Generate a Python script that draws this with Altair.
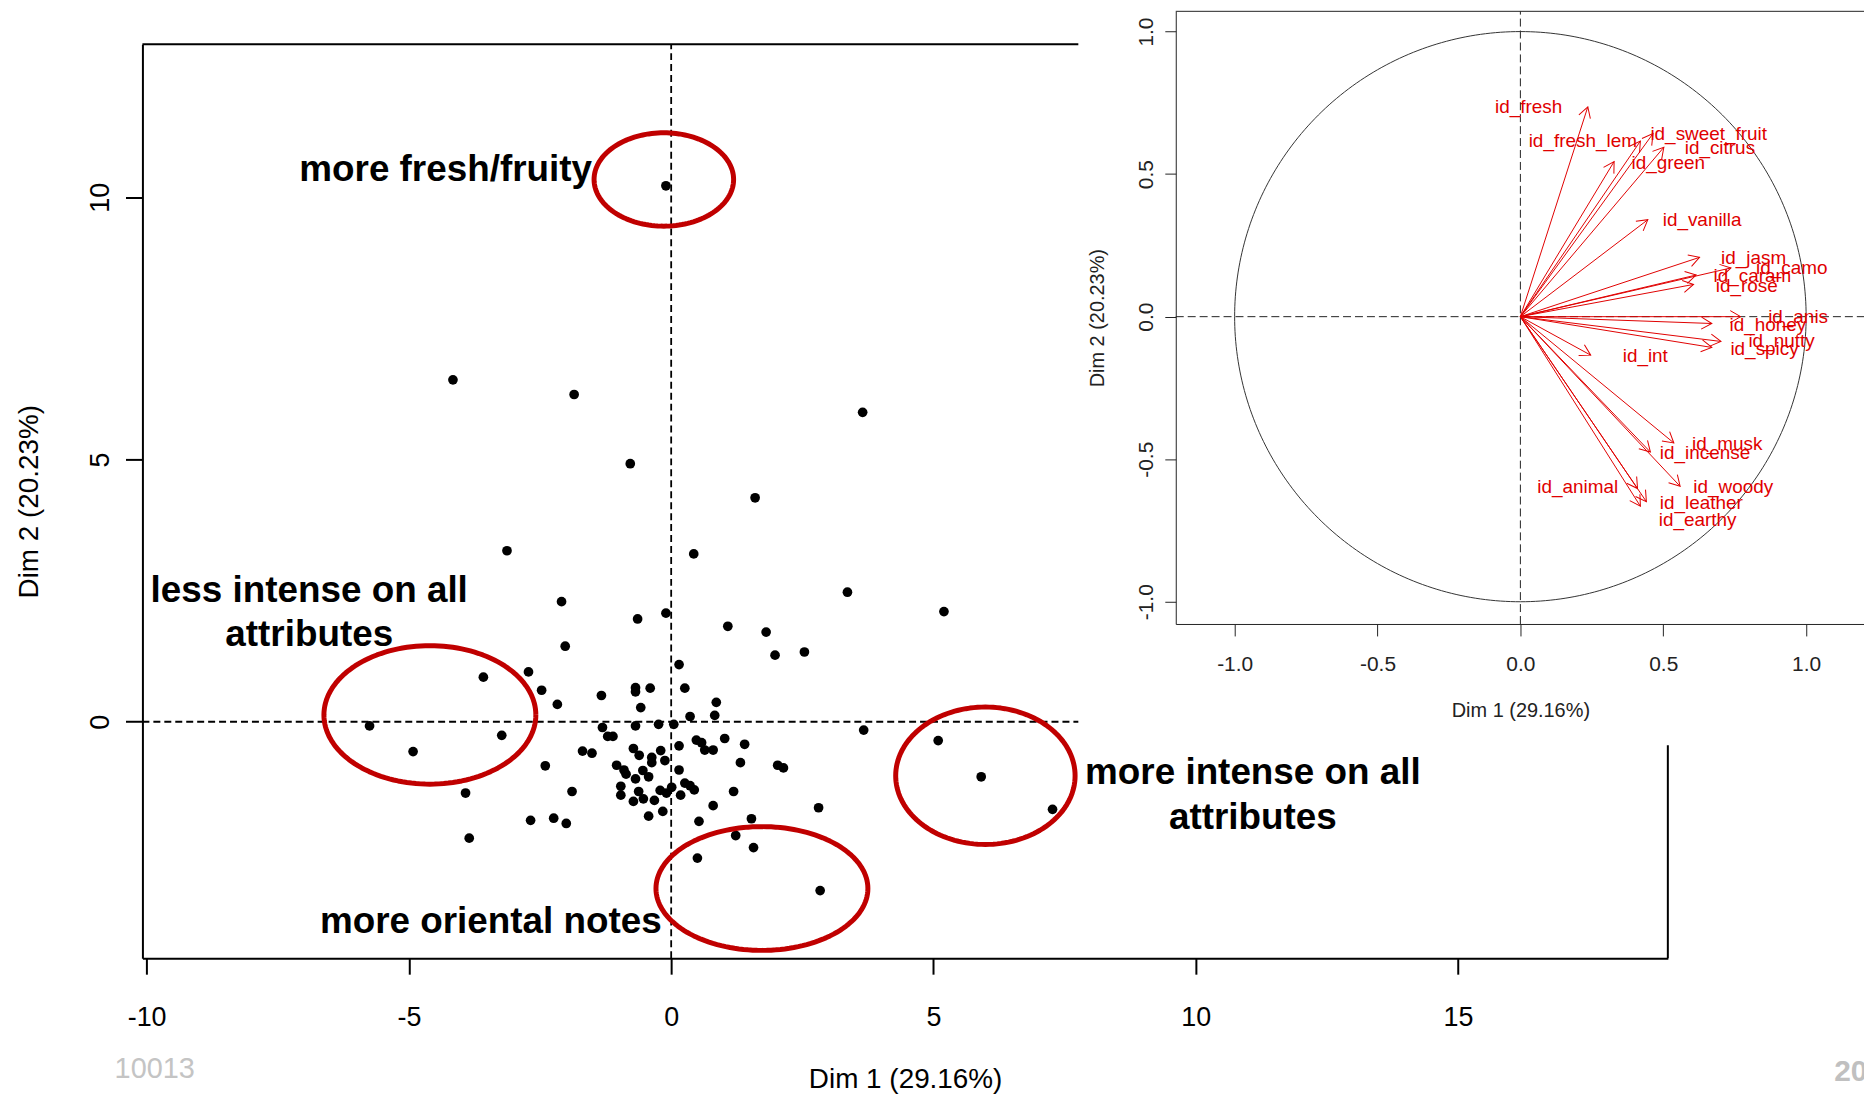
import altair as alt
import numpy as np
import pandas as pd

FONT = "Liberation Sans"
RED = "#e00000"
ELL_RED = "#c00000"

# ---------------- individuals (main factor map) ----------------
ind_x = [-0.10, -4.16, -1.85, 3.65, -0.78, 1.60, -3.13, 0.43, 3.36, 5.20,
         -2.09, -0.64, -0.10, 1.08, 1.81, -2.02, 1.98, 2.54, 0.15, -2.72,
         -3.58, -0.40, -0.68, -0.68, 0.26, -2.47, -1.33, 0.86, -2.17, -0.58,
         0.83, 0.36, -5.75, -0.68, -0.24, 0.05, -1.31, -3.23, -1.21, -1.11,
         0.15, 0.48, 0.58, 0.64, 0.80, -4.92, -1.69, -1.51, -0.72, -0.61,
         -0.37, -0.37, -0.20, -0.12, -2.40, -1.04, -0.90, -0.86, -0.54, -0.43,
         -0.68, 0.15, 0.26, 0.36, 0.44, -1.89, -0.96, -0.96, -0.62, -0.53,
         -0.72, -0.32, -0.21, -0.09, 0.01, 0.18, 0.80, -3.92, -0.43, -0.16,
         0.53, -2.68, -2.24, -2.00, -3.85, 0.50, 3.67, 1.02, 1.40, 1.32,
         2.03, 2.14, 1.19, 2.81, 1.53, 1.23, 1.57, 2.84, 5.09, 5.91, 7.27]
ind_y = [10.22, 6.52, 6.24, 5.90, 4.92, 4.27, 3.26, 3.20, 2.47, 2.10,
         2.29, 1.96, 2.07, 1.82, 1.71, 1.44, 1.27, 1.33, 1.09, 0.95,
         0.85, 0.64, 0.65, 0.57, 0.64, 0.60, 0.50, 0.37, 0.33, 0.27,
         0.12, 0.10, -0.08, -0.08, -0.05, -0.05, -0.11, -0.26, -0.28, -0.28,
         -0.46, -0.35, -0.40, -0.54, -0.54, -0.57, -0.56, -0.60, -0.51, -0.64,
         -0.68, -0.78, -0.55, -0.74, -0.84, -0.83, -0.92, -1.00, -0.93, -1.05,
         -1.09, -0.92, -1.17, -1.22, -1.30, -1.33, -1.23, -1.40, -1.33, -1.47,
         -1.52, -1.50, -1.31, -1.36, -1.25, -1.40, -1.60, -1.36, -1.80, -1.71,
         -1.90, -1.88, -1.84, -1.94, -2.22, -2.60, -0.16, -0.32, -0.43, -0.78,
         -0.83, -0.88, -1.33, -1.64, -1.85, -2.17, -2.40, -3.22, -0.36, -1.05, -1.67]

# ---------------- highlight ellipses ----------------
ell_cx = [-0.14, -4.60, 1.73, 5.99]
ell_cy = [10.34, 0.13, -3.18, -1.03]
ell_rx = [1.33, 2.02, 2.02, 1.71]
ell_ry = [0.89, 1.32, 1.18, 1.31]

# ---------------- annotations ----------------
ann_text = ["more fresh/fruity", "less intense on all", "attributes",
            "more oriental notes", "more intense on all", "attributes"]
ann_x = [-1.51, -6.90, -6.90, -0.18, 11.09, 11.09]
ann_y = [10.32, 2.28, 1.44, -4.03, -1.19, -2.04]
ann_align = ["right", "center", "center", "right", "center", "center"]

foot_text = ["10013", "20"]
foot_x = [-10.61, 22.17]
foot_y = [-6.79, -6.86]

# ---------------- variables (correlation circle inset) ----------------
var_names = ["id_fresh", "id_fresh_lem", "id_sweet_fruit", "id_citrus", "id_green",
             "id_vanilla", "id_jasm", "id_camo", "id_caram", "id_rose", "id_anis",
             "id_honey", "id_nutty", "id_spicy", "id_int", "id_musk", "id_incense",
             "id_woody", "id_animal", "id_leather", "id_earthy"]
var_x = [0.236, 0.420, 0.464, 0.502, 0.328, 0.446, 0.627, 0.737, 0.615, 0.606, 0.771,
         0.670, 0.702, 0.670, 0.246, 0.537, 0.455, 0.559, 0.410, 0.441, 0.420]
var_y = [0.736, 0.616, 0.642, 0.594, 0.544, 0.340, 0.208, 0.171, 0.146, 0.113, 0.000,
         -0.024, -0.087, -0.108, -0.135, -0.443, -0.475, -0.595, -0.603, -0.649, -0.665]
lab_x = [-0.089, 0.029, 0.455, 0.575, 0.389, 0.498, 0.702, 0.825, 0.676, 0.684, 0.867,
         0.732, 0.798, 0.735, 0.358, 0.601, 0.488, 0.605, 0.059, 0.488, 0.484]
lab_y = [0.736, 0.616, 0.642, 0.590, 0.540, 0.338, 0.206, 0.171, 0.142, 0.107, -0.003,
         -0.029, -0.085, -0.114, -0.137, -0.446, -0.478, -0.599, -0.599, -0.653, -0.713]

# ---------------- layout ----------------
W, H = 1532, 918
XMIN, XMAX = -10.08, 19.0
YMIN, YMAX = -4.51, 12.92
IXMIN, IXMAX = -1.206, 1.206
IYMIN, IYMAX = -1.078, 1.071

minus_fix = "replace(datum.label, '\u2212', '-')"

SX = alt.Scale(domain=[XMIN, XMAX], nice=False, zero=False)
SY = alt.Scale(domain=[YMIN, YMAX], nice=False, zero=False)
AX = alt.Axis(orient="bottom", values=[-10, -5, 0, 5, 10, 15], labelExpr=minus_fix,
              grid=False, tickSize=16, tickWidth=2, tickColor="black",
              domainColor="black", domainWidth=2, labelFont=FONT, labelFontSize=27,
              labelColor="black", labelPadding=44, labelBaseline="middle",
              labelFlush=False, labelOverlap=False,
              title="Dim 1 (29.16%)", titleFont=FONT, titleFontSize=28,
              titleFontWeight="normal", titleColor="black", titleY=122,
              titleBaseline="middle")
AY = alt.Axis(orient="left", values=[0, 5, 10], grid=False, tickSize=17, tickWidth=2,
              tickColor="black", domainColor="black", domainWidth=2, labelFont=FONT,
              labelFontSize=27, labelColor="black", labelAngle=270, labelAlign="center",
              labelBaseline="alphabetic", labelPadding=17, labelFlush=False,
              labelOverlap=False,
              title="Dim 2 (20.23%)", titleFont=FONT, titleFontSize=28,
              titleFontWeight="normal", titleColor="black", titleAngle=270,
              titleX=-113, titleBaseline="middle")

SIX = alt.Scale(domain=[IXMIN, IXMAX], range=[1037.8, 1730.0], nice=False, zero=False)
SIY = alt.Scale(domain=[IYMIN, IYMAX], range=[582.3, -33.0], nice=False, zero=False)
AIX = alt.Axis(orient="bottom", offset=-335.7, values=[-1, -0.5, 0, 0.5, 1], format=".1f",
               labelExpr=minus_fix, grid=False, tickSize=12, tickWidth=1,
               tickColor="#222222", domainColor="#222222", domainWidth=1,
               labelFont=FONT, labelFontSize=21, labelColor="#222222", labelPadding=29,
               labelBaseline="middle", labelFlush=False, labelOverlap=False, zindex=1,
               title="Dim 1 (29.16%)", titleFont=FONT, titleFontSize=20,
               titleFontWeight="normal", titleColor="#222222", titleY=87,
               titleBaseline="middle")
AIY = alt.Axis(orient="left", offset=-1037.8, values=[-1, -0.5, 0, 0.5, 1], format=".1f",
               labelExpr=minus_fix, grid=False, tickSize=11, tickWidth=1,
               tickColor="#222222", domainColor="#222222", domainWidth=1,
               labelFont=FONT, labelFontSize=21, labelColor="#222222", labelAngle=270,
               labelAlign="center", labelBaseline="alphabetic", labelPadding=12.5,
               labelFlush=False, labelOverlap=False, zindex=1,
               title="Dim 2 (20.23%)", titleFont=FONT, titleFontSize=20,
               titleFontWeight="normal", titleColor="#222222", titleAngle=270,
               titleX=-79, titleBaseline="middle")


def mx(f):
    return alt.X(f, type="quantitative", scale=SX, axis=AX)


def my(f):
    return alt.Y(f, type="quantitative", scale=SY, axis=AY)


def ix(f):
    return alt.X(f, type="quantitative", scale=SIX, axis=AIX)


def iy(f):
    return alt.Y(f, type="quantitative", scale=SIY, axis=AIY)


# ---------------- main layers ----------------
pts = pd.DataFrame({"x": ind_x, "y": ind_y})

frame = pd.DataFrame({"x1": [XMIN, XMAX], "x2": [XMAX, XMAX],
                      "y1": [YMAX, YMIN], "y2": [YMAX, YMAX]})
axes0 = pd.DataFrame({"x1": [0, XMIN], "x2": [0, XMAX],
                      "y1": [YMIN, 0], "y2": [YMAX, 0]})

t = np.linspace(0, 2 * np.pi, 145)
ell_rows = []
for k in range(len(ell_cx)):
    for i, tt in enumerate(t):
        ell_rows.append({"e": k, "i": i,
                         "x": ell_cx[k] + ell_rx[k] * np.cos(tt),
                         "y": ell_cy[k] + ell_ry[k] * np.sin(tt)})
ell = pd.DataFrame(ell_rows)

ann = pd.DataFrame({"t": ann_text, "x": ann_x, "y": ann_y, "a": ann_align})
ann_r = ann[ann["a"] == "right"]
ann_c = ann[ann["a"] == "center"]
foot = pd.DataFrame({"t": foot_text, "x": foot_x, "y": foot_y})

l_frame = alt.Chart(frame).mark_rule(color="black", strokeWidth=2).encode(
    x=mx("x1"), x2="x2", y=my("y1"), y2="y2")
l_axes0 = alt.Chart(axes0).mark_rule(color="black", strokeWidth=1.8, strokeDash=[7, 4]).encode(
    x=mx("x1"), x2="x2", y=my("y1"), y2="y2")
l_pts = alt.Chart(pts).mark_circle(size=95, color="black", opacity=1).encode(
    x=mx("x"), y=my("y"))
l_ell = alt.Chart(ell).mark_line(color=ELL_RED, strokeWidth=5, strokeJoin="round").encode(
    x=mx("x"), y=my("y"), detail="e:N", order="i:Q")
l_ann_r = alt.Chart(ann_r).mark_text(align="right", baseline="alphabetic", font=FONT,
                                     fontSize=37, fontWeight="bold", color="black").encode(
    x=mx("x"), y=my("y"), text="t:N")
l_ann_c = alt.Chart(ann_c).mark_text(align="center", baseline="alphabetic", font=FONT,
                                     fontSize=37, fontWeight="bold", color="black").encode(
    x=mx("x"), y=my("y"), text="t:N")
l_foot1 = alt.Chart(foot.iloc[[0]]).mark_text(align="left", baseline="alphabetic", font=FONT,
                                              fontSize=29, color="#c4c4c4").encode(
    x=mx("x"), y=my("y"), text="t:N")
l_foot2 = alt.Chart(foot.iloc[[1]]).mark_text(align="left", baseline="alphabetic", font=FONT,
                                              fontSize=30, fontWeight="bold",
                                              color="#c0c0c0").encode(
    x=mx("x"), y=my("y"), text="t:N")

main = alt.layer(l_frame, l_axes0, l_pts, l_ell, l_ann_r, l_ann_c, l_foot1, l_foot2)

# ---------------- inset layers ----------------
bg = pd.DataFrame({"x1": [-1.547], "x2": [1.30], "y1": [-1.503], "y2": [1.20]})
iframe = pd.DataFrame({"x1": [IXMIN, IXMAX], "x2": [IXMAX, IXMAX],
                       "y1": [IYMAX, IYMIN], "y2": [IYMAX, IYMAX]})
iaxes0 = pd.DataFrame({"x1": [0, IXMIN], "x2": [0, IXMAX],
                       "y1": [IYMIN, 0], "y2": [IYMAX, 0]})
tc = np.linspace(0, 2 * np.pi, 361)
circ = pd.DataFrame({"i": np.arange(len(tc)), "x": np.cos(tc), "y": np.sin(tc)})
var = pd.DataFrame({"name": var_names, "vx": var_x, "vy": var_y,
                    "lx": lab_x, "ly": lab_y,
                    "ox": [0.0] * len(var_names), "oy": [0.0] * len(var_names)})

i_bg = alt.Chart(bg).mark_rect(fill="white", stroke="white", strokeWidth=0).encode(
    x=ix("x1"), x2="x2", y=iy("y1"), y2="y2")
i_frame = alt.Chart(iframe).mark_rule(color="#222222", strokeWidth=1).encode(
    x=ix("x1"), x2="x2", y=iy("y1"), y2="y2")
i_axes0 = alt.Chart(iaxes0).mark_rule(color="#222222", strokeWidth=1, strokeDash=[8, 4]).encode(
    x=ix("x1"), x2="x2", y=iy("y1"), y2="y2")
i_circ = alt.Chart(circ).mark_line(color="#333333", strokeWidth=1).encode(
    x=ix("x"), y=iy("y"), order="i:Q")
i_shaft = alt.Chart(var).mark_rule(color=RED, strokeWidth=1).encode(
    x=ix("ox"), x2="vx", y=iy("oy"), y2="vy")
i_head = alt.Chart(var).transform_calculate(
    ang="(atan2(datum.vx, datum.vy) * 180 / PI + 360) % 360"
).mark_point(shape="M -0.577 1 L 0 0 L 0.577 1", filled=False, size=440,
             strokeWidth=1, color=RED, opacity=1).encode(
    x=ix("vx"), y=iy("vy"), angle=alt.Angle("ang:Q", scale=None))
i_lab = alt.Chart(var).mark_text(align="left", baseline="middle", font=FONT,
                                 fontSize=19, color=RED).encode(
    x=ix("lx"), y=iy("ly"), text="name:N")

inset = alt.layer(i_bg, i_frame, i_axes0, i_circ, i_shaft, i_head, i_lab)

chart = alt.layer(main, inset).resolve_scale(
    x="independent", y="independent"
).resolve_axis(
    x="independent", y="independent"
).properties(
    width=W, height=H,
    padding={"left": 135, "top": 34, "right": 197, "bottom": 134},
    autosize=alt.AutoSizeParams(type="none"),
    background="white",
).configure_view(stroke="transparent")

chart.save("out.html", embed_options={"renderer": "svg", "actions": False})
